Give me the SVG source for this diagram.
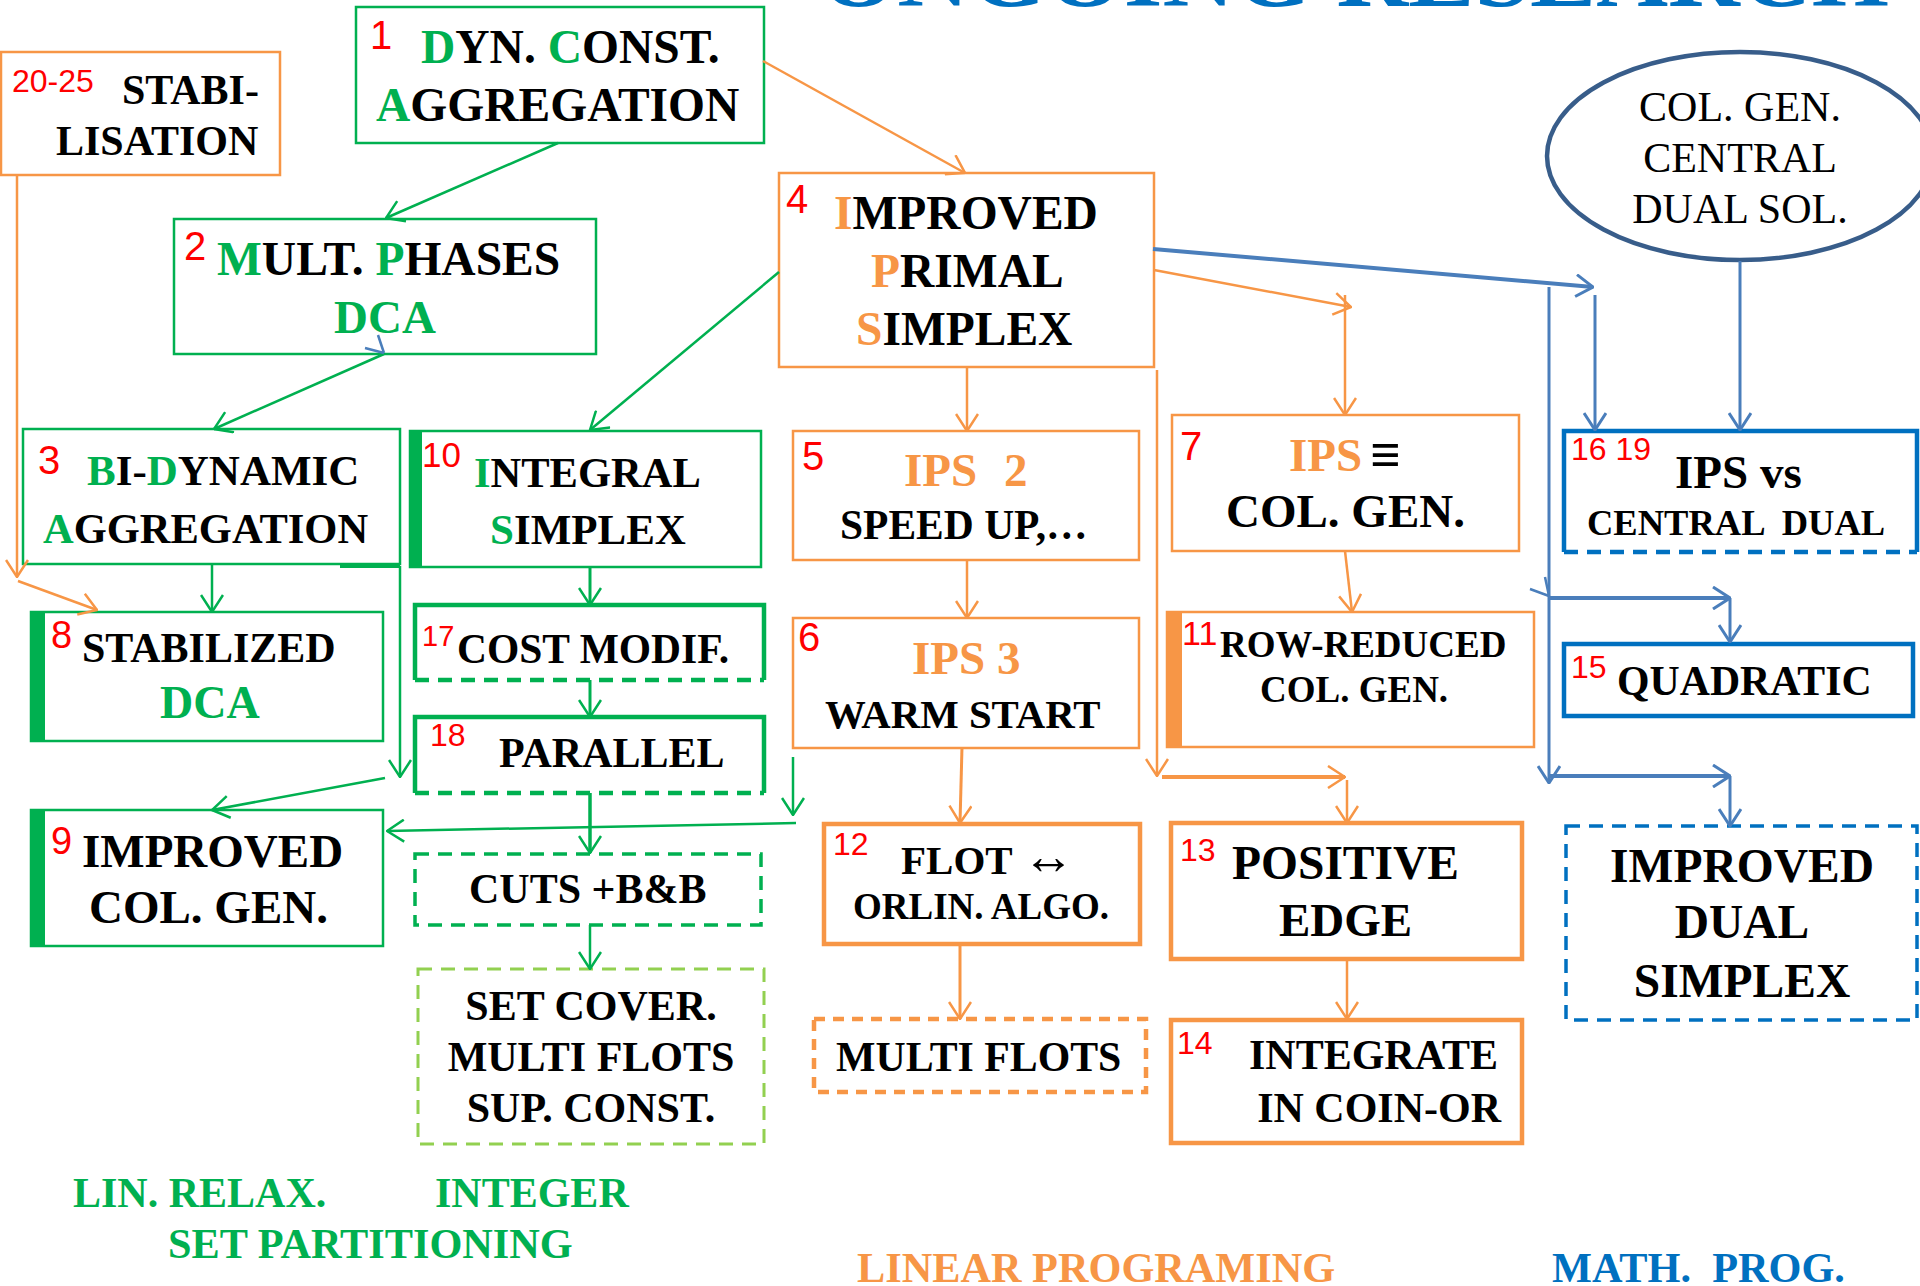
<svg xmlns="http://www.w3.org/2000/svg" width="1920" height="1286" viewBox="0 0 1920 1286">
<style>
.t{font-family:"Liberation Serif","Times New Roman",serif;font-weight:bold;fill:#000;white-space:pre}
.r{font-family:"Liberation Serif","Times New Roman",serif;font-weight:normal;fill:#000}
.n{font-family:"Liberation Sans",Arial,sans-serif;fill:#FF0000}
.g{fill:#00B050}.o{fill:#F79646}.b{fill:#0070C0}
.bg{fill:#fff;stroke:#00B050;stroke-width:2.5}
.bo{fill:#fff;stroke:#F79646;stroke-width:2.5}
.bo4{fill:#fff;stroke:#F79646;stroke-width:4.5}
.bb4{fill:none;stroke:#0070C0;stroke-width:4.5}
.cg{fill:none;stroke:#00B050;stroke-width:2.5;marker-end:url(#ag)}
.co{fill:none;stroke:#F79646;stroke-width:2.5;marker-end:url(#ao)}
.cb{fill:none;stroke:#4A7EBB;stroke-width:3;marker-end:url(#ab)}
</style>
<defs>
<marker id="ag" viewBox="0 0 20 24" refX="19" refY="12" markerWidth="20" markerHeight="24" markerUnits="userSpaceOnUse" orient="auto"><path d="M2,1 L19,12 L2,23" fill="none" stroke="#00B050" stroke-width="2.5"/></marker>
<marker id="ao" viewBox="0 0 20 24" refX="19" refY="12" markerWidth="20" markerHeight="24" markerUnits="userSpaceOnUse" orient="auto"><path d="M2,1 L19,12 L2,23" fill="none" stroke="#F79646" stroke-width="2.5"/></marker>
<marker id="ab" viewBox="0 0 20 24" refX="19" refY="12" markerWidth="20" markerHeight="24" markerUnits="userSpaceOnUse" orient="auto"><path d="M2,1 L19,12 L2,23" fill="none" stroke="#4A7EBB" stroke-width="3"/></marker>
</defs>
<rect width="1920" height="1286" fill="#fff"/>

<text class="t" x="820" y="6" font-size="90" textLength="1069" lengthAdjust="spacingAndGlyphs" style="fill:#0070C0">ONGOING RESEARCH</text>

<g id="n20-25">
<rect class="bo" x="1" y="52" width="279" height="123"/>
<text class="n" x="12" y="92" font-size="32">20-25</text>
<text class="t" x="122" y="104" font-size="42">STABI-</text>
<text class="t" x="56" y="155" font-size="42">LISATION</text>
</g>

<g id="n1">
<rect class="bg" x="356" y="7" width="408" height="136"/>
<text class="n" x="370" y="49" font-size="40">1</text>
<text class="t" x="421" y="63" font-size="47.5"><tspan class="g">D</tspan>YN. <tspan class="g">C</tspan>ONST.</text>
<text class="t" x="376" y="121" font-size="47.5"><tspan class="g">A</tspan>GGREGATION</text>
</g>

<g id="n2">
<rect class="bg" x="174" y="219" width="422" height="135"/>
<text class="n" x="184" y="260" font-size="40">2</text>
<text class="t" x="217" y="275" font-size="47.5"><tspan class="g">M</tspan>ULT. <tspan class="g">P</tspan>HASES</text>
<text class="t g" x="334" y="333" font-size="47">DCA</text>
</g>

<g id="n3">
<rect class="bg" x="23" y="429" width="377" height="135"/>
<text class="n" x="38" y="474" font-size="40">3</text>
<text class="t" x="87" y="485" font-size="43"><tspan class="g">B</tspan>I-<tspan class="g">D</tspan>YNAMIC</text>
<text class="t" x="43" y="543" font-size="42.5"><tspan class="g">A</tspan>GGREGATION</text>
</g>

<g id="n8">
<rect class="bg" x="31" y="612" width="352" height="129"/>
<rect x="30" y="611" width="15" height="131" fill="#00B050"/>
<text class="n" x="51" y="648" font-size="38">8</text>
<text class="t" x="82" y="662" font-size="42">STABILIZED</text>
<text class="t g" x="160" y="718" font-size="46">DCA</text>
</g>

<g id="n9">
<rect class="bg" x="31" y="810" width="352" height="136"/>
<rect x="30" y="809" width="15" height="138" fill="#00B050"/>
<text class="n" x="51" y="854" font-size="38">9</text>
<text class="t" x="82" y="867" font-size="47">IMPROVED</text>
<text class="t" x="89" y="923" font-size="47">COL. GEN.</text>
</g>

<g id="n10">
<rect class="bg" x="410" y="431" width="351" height="136"/>
<rect x="409" y="430" width="13" height="138" fill="#00B050"/>
<text class="n" x="422" y="467" font-size="35">10</text>
<text class="t" x="474" y="487" font-size="42.5"><tspan class="g">I</tspan>NTEGRAL</text>
<text class="t" x="490" y="544" font-size="43"><tspan class="g">S</tspan>IMPLEX</text>
</g>

<g id="n17">
<path d="M415,680 V605 H764 V680" fill="none" stroke="#00B050" stroke-width="4.5"/>
<path d="M415,680 H764" fill="none" stroke="#00B050" stroke-width="4.5" stroke-dasharray="14 9"/>
<text class="n" x="422" y="646" font-size="29">17</text>
<text class="t" x="457" y="663" font-size="41.5">COST MODIF.</text>
</g>

<g id="n18">
<path d="M415,793 V717 H764 V793" fill="none" stroke="#00B050" stroke-width="4.5"/>
<path d="M415,793 H764" fill="none" stroke="#00B050" stroke-width="4.5" stroke-dasharray="14 9"/>
<text class="n" x="430" y="746" font-size="32">18</text>
<text class="t" x="499" y="767" font-size="42">PARALLEL</text>
</g>

<g id="cuts">
<rect x="415" y="854" width="346" height="71" fill="none" stroke="#00B050" stroke-width="3.5" stroke-dasharray="14 9"/>
<text class="t" x="469" y="903" font-size="42">CUTS +B&amp;B</text>
</g>

<g id="setcover">
<rect x="418" y="969" width="346" height="175" fill="none" stroke="#92D050" stroke-width="3" stroke-dasharray="14 9"/>
<text class="t" x="591" y="1020" font-size="42" text-anchor="middle">SET COVER.</text>
<text class="t" x="591" y="1071" font-size="42" text-anchor="middle">MULTI FLOTS</text>
<text class="t" x="591" y="1122" font-size="42" text-anchor="middle">SUP. CONST.</text>
</g>

<g id="n4">
<rect class="bo" x="779" y="173" width="375" height="194"/>
<text class="n" x="786" y="213" font-size="40">4</text>
<text class="t" x="834" y="229" font-size="47.5"><tspan class="o">I</tspan>MPROVED</text>
<text class="t" x="871" y="287" font-size="47.5"><tspan class="o">P</tspan>RIMAL</text>
<text class="t" x="856" y="345" font-size="47.5"><tspan class="o">S</tspan>IMPLEX</text>
</g>

<g id="n5">
<rect class="bo" x="793" y="431" width="346" height="129"/>
<text class="n" x="802" y="470" font-size="40">5</text>
<text class="t o" x="904" y="486" font-size="47">IPS</text>
<text class="t o" x="1004" y="486" font-size="47">2</text>
<text class="t" x="840" y="539" font-size="41.5">SPEED UP,…</text>
</g>

<g id="n6">
<rect class="bo" x="793" y="618" width="346" height="130"/>
<text class="n" x="798" y="651" font-size="40">6</text>
<text class="t o" x="912" y="674" font-size="47">IPS 3</text>
<text class="t" x="825" y="728" font-size="40.8">WARM START</text>
</g>

<g id="n7">
<rect class="bo" x="1172" y="415" width="347" height="136"/>
<text class="n" x="1180" y="460" font-size="40">7</text>
<text class="t o" x="1289" y="471" font-size="47">IPS</text>
<text class="t" x="1370" y="473" font-size="54">≡</text>
<text class="t" x="1226" y="527" font-size="47">COL. GEN.</text>
</g>

<g id="n11">
<rect class="bo" x="1167" y="612" width="367" height="135"/>
<rect x="1166" y="611" width="16" height="137" fill="#F79646"/>
<text class="n" x="1182" y="645" font-size="34">11</text>
<text class="t" x="1220" y="657" font-size="37">ROW-REDUCED</text>
<text class="t" x="1260" y="702" font-size="37">COL. GEN.</text>
</g>

<g id="n12">
<rect class="bo4" x="824" y="824" width="316" height="120"/>
<text class="n" x="833" y="855" font-size="32">12</text>
<text class="t" x="901" y="874" font-size="41">FLOT <tspan font-size="52">↔</tspan></text>
<text class="t" x="853" y="919" font-size="37">ORLIN. ALGO.</text>
</g>

<g id="n13">
<rect class="bo4" x="1171" y="823" width="351" height="136"/>
<text class="n" x="1180" y="861" font-size="32">13</text>
<text class="t" x="1232" y="879" font-size="47.5">POSITIVE</text>
<text class="t" x="1279" y="936" font-size="47">EDGE</text>
</g>

<g id="n14">
<rect class="bo4" x="1171" y="1020" width="351" height="123"/>
<text class="n" x="1177" y="1054" font-size="32">14</text>
<text class="t" x="1249" y="1069" font-size="42">INTEGRATE</text>
<text class="t" x="1501" y="1122" font-size="42" text-anchor="end">IN COIN-OR</text>
</g>

<g id="multiflots">
<rect x="814" y="1019" width="332" height="73" fill="none" stroke="#F79646" stroke-width="4.5" stroke-dasharray="11 8"/>
<text class="t" x="836" y="1071" font-size="41.8">MULTI FLOTS</text>
</g>

<g id="central">
<ellipse cx="1740" cy="156" rx="193" ry="104" fill="#fff" stroke="#385D8A" stroke-width="4.5"/>
<text class="r" x="1740" y="121" font-size="42" text-anchor="middle">COL. GEN.</text>
<text class="r" x="1740" y="172" font-size="42" text-anchor="middle">CENTRAL</text>
<text class="r" x="1740" y="223" font-size="42" text-anchor="middle">DUAL SOL.</text>
</g>

<g id="n16-19">
<path d="M1564,552 V431 H1917 V552" fill="none" stroke="#0070C0" stroke-width="4.5"/>
<path d="M1564,552 H1917" fill="none" stroke="#0070C0" stroke-width="4.5" stroke-dasharray="14 9"/>
<text class="n" x="1571" y="460" font-size="32">16 19</text>
<text class="t" x="1675" y="488" font-size="47">IPS vs</text>
<text class="t" x="1587" y="535" font-size="36.5">CENTRAL  DUAL</text>
</g>

<g id="n15">
<rect class="bb4" x="1564" y="644" width="349" height="72"/>
<text class="n" x="1571" y="678" font-size="32">15</text>
<text class="t" x="1617" y="695" font-size="41.8">QUADRATIC</text>
</g>

<g id="dualsimplex">
<rect x="1566" y="826" width="351" height="194" fill="none" stroke="#0070C0" stroke-width="3.5" stroke-dasharray="14 9"/>
<text class="t" x="1742" y="882" font-size="47.5" text-anchor="middle">IMPROVED</text>
<text class="t" x="1742" y="938" font-size="47.5" text-anchor="middle">DUAL</text>
<text class="t" x="1742" y="997" font-size="47.5" text-anchor="middle">SIMPLEX</text>
</g>

<g id="legend">
<text class="t g" x="73" y="1207" font-size="42">LIN. RELAX.</text>
<text class="t g" x="435" y="1207" font-size="42">INTEGER</text>
<text class="t g" x="168" y="1258" font-size="42.3">SET PARTITIONING</text>
<text class="t o" x="857" y="1282" font-size="42.3">LINEAR PROGRAMING</text>
<text class="t b" x="1552" y="1282" font-size="42.3">MATH.  PROG.</text>
</g>

<g id="connectors">
<!-- orange -->
<path class="co" d="M763,61 L965,173"/>
<path class="co" d="M17,175 L17,577"/>
<path class="co" d="M18,581 L97,610"/>
<path class="co" d="M967,367 L967,431"/>
<path class="co" d="M1154,270 L1351,307"/>
<path class="co" d="M1345,295 L1345,415"/>
<path class="co" d="M1157,370 L1157,776"/>
<path class="co" d="M1162,777 L1345,777" style="stroke-width:4"/>
<path class="co" d="M1347,780 L1347,823"/>
<path class="co" d="M967,560 L967,618"/>
<path class="co" d="M962,747 L960,823" style="stroke-width:3"/>
<path class="co" d="M1345,551 L1352,612"/>
<path class="co" d="M960,944 L960,1019" style="stroke-width:3"/>
<path class="co" d="M1347,959 L1347,1019"/>
<!-- green -->
<path class="cg" d="M558,143 L386,218"/>
<path class="cg" d="M384,354 L214,429"/>
<path class="cg" d="M779,272 L590,430"/>
<path class="cg" d="M212,565 L212,612"/>
<path d="M340,566 L400,566" stroke="#00B050" stroke-width="4" fill="none"/>
<path class="cg" d="M400,566 L400,777"/>
<path class="cg" d="M385,778 L212,810"/>
<path class="cg" d="M590,567 L590,605" style="stroke-width:3"/>
<path class="cg" d="M590,680 L590,717" style="stroke-width:3"/>
<path class="cg" d="M590,793 L590,853" style="stroke-width:3.5"/>
<path class="cg" d="M793,757 L793,815"/>
<path class="cg" d="M796,823 L387,831"/>
<path class="cg" d="M590,925 L590,969"/>
<!-- blue -->
<path d="M378,335 L384,353 M365,348 L384,353" stroke="#4A7EBB" stroke-width="2.5" fill="none"/>
<path class="cb" d="M1153,249 L1593,287" style="stroke-width:4"/>
<path class="cb" d="M1595,295 L1595,430"/>
<path class="cb" d="M1740,261 L1740,430"/>
<path class="cb" d="M1549,287 L1549,783"/>
<path d="M1530,589 L1549,596 M1545,577 L1549,596" stroke="#4A7EBB" stroke-width="2.5" fill="none"/>
<path class="cb" d="M1549,598 L1730,598" style="stroke-width:4"/>
<path class="cb" d="M1730,598 L1730,642"/>
<path class="cb" d="M1549,776 L1730,776" style="stroke-width:4"/>
<path class="cb" d="M1730,776 L1730,826"/>
</g>
</svg>
